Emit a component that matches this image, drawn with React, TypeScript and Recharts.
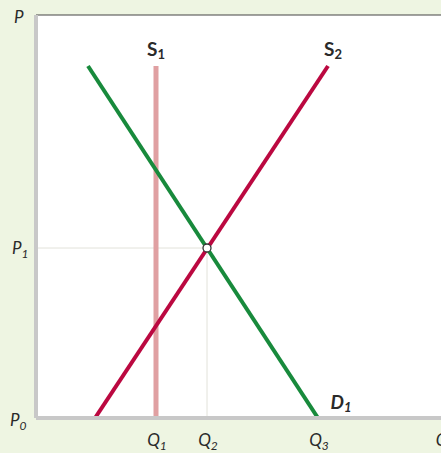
import React from 'react';
import { ComposedChart, Line, XAxis, YAxis, CartesianGrid, ReferenceLine, ReferenceDot } from 'recharts';

// Quantity / price values (origin at P0)
const demandD1 = [
  { q: 52, p: 352 },
  { q: 282, p: 0 },
];
const supplyS1 = [
  { q: 120, p: 0 },
  { q: 120, p: 352 },
];
const supplyS2 = [
  { q: 59, p: 0 },
  { q: 292, p: 352 },
];
const guideH = [
  { q: 0, p: 170 },
  { q: 171, p: 170 },
];
const guideV = [
  { q: 171, p: 170 },
  { q: 171, p: 0 },
];
const equilibrium = { q: 171, p: 170 };

const qTicks = [120, 171, 282, 405];
const qTickSubs = ['1', '2', '3', ''];
const pTicks = [0, 170, 401];
const pTickSubs = ['0', '1', ''];

const FONT = 'Lato, "Open Sans", sans-serif';
const TEXT = '#2a2a2a';

const XTick = (props: any) => {
  const { x, payload } = props;
  const i = qTicks.indexOf(payload.value);
  const sub = qTickSubs[i] ?? '';
  return (
    <text x={x + 1} y={446} textAnchor="middle" fontFamily={FONT} fontStyle="italic" fontSize={17} fill={TEXT}>
      Q
      {sub && (
        <tspan fontSize={12} dy={4}>
          {sub}
        </tspan>
      )}
    </text>
  );
};

const YTick = (props: any) => {
  const { y, payload } = props;
  const i = pTicks.indexOf(payload.value);
  const sub = pTickSubs[i] ?? '';
  const dy = payload.value === 0 ? 8 : 6;
  const x0 = payload.value === 0 ? 10 : payload.value === 170 ? 12 : 14;
  return (
    <text x={x0} y={y + dy} textAnchor="start" fontFamily={FONT} fontStyle="italic" fontSize={17} fill={TEXT}>
      P
      {sub && (
        <tspan fontSize={12} dy={4}>
          {sub}
        </tspan>
      )}
    </text>
  );
};

const curveLabel = (name: string, sub: string, idx: number, dx: number, dy: number, italic: boolean) =>
  (props: any) => {
    if (props.index !== idx) return null;
    return (
      <text
        key={name + sub}
        x={props.x + dx}
        y={props.y + dy}
        textAnchor="middle"
        fontFamily={FONT}
        fontWeight={700}
        fontStyle={italic ? 'italic' : 'normal'}
        fontSize={19}
        fill={TEXT}
      >
        {name}
        <tspan fontSize={13} dy={3}>
          {sub}
        </tspan>
      </text>
    );
  };

export default function App() {
  return (
    <div
      style={{
        position: 'absolute',
        left: 0,
        top: 0,
        width: 441,
        height: 453,
        overflow: 'hidden',
        background: '#eef5e2',
      }}
    >
      <ComposedChart width={460} height={453} margin={{ top: 15, right: 4, left: 0, bottom: 5 }}>
        <CartesianGrid horizontal={false} vertical={false} fill="#ffffff" />
        <XAxis
          type="number"
          dataKey="q"
          domain={[0, 420]}
          ticks={qTicks}
          tick={<XTick />}
          tickLine={false}
          height={30}
          axisLine={{ stroke: '#c8c8c8', strokeWidth: 4 }}
          allowDataOverflow
        />
        <YAxis
          type="number"
          dataKey="p"
          domain={[0, 403]}
          ticks={pTicks}
          tick={<YTick />}
          tickLine={false}
          width={36}
          axisLine={{ stroke: '#c8c8c8', strokeWidth: 4 }}
          allowDataOverflow
        />
        <ReferenceLine y={403} stroke="#444444" strokeWidth={1.2} />
        <Line data={guideH} dataKey="p" stroke="#e2e2da" strokeWidth={1} dot={false} isAnimationActive={false} />
        <Line data={guideV} dataKey="p" stroke="#e2e2da" strokeWidth={1} dot={false} isAnimationActive={false} />
        <Line
          data={supplyS1}
          dataKey="p"
          stroke="#e0a0a2"
          strokeWidth={5}
          dot={false}
          isAnimationActive={false}
          label={curveLabel('S', '1', 1, 0, -10, false)}
        />
        <Line
          data={supplyS2}
          dataKey="p"
          stroke="#bb0840"
          strokeWidth={4}
          dot={false}
          isAnimationActive={false}
          label={curveLabel('S', '2', 1, 5, -10, false)}
        />
        <Line
          data={demandD1}
          dataKey="p"
          stroke="#188a3c"
          strokeWidth={4}
          dot={false}
          isAnimationActive={false}
          label={curveLabel('D', '1', 1, 23, -9, true)}
        />
        <ReferenceDot x={equilibrium.q} y={equilibrium.p} r={4} fill="#ffffff" stroke="#333333" strokeWidth={1.3} />
      </ComposedChart>
    </div>
  );
}
